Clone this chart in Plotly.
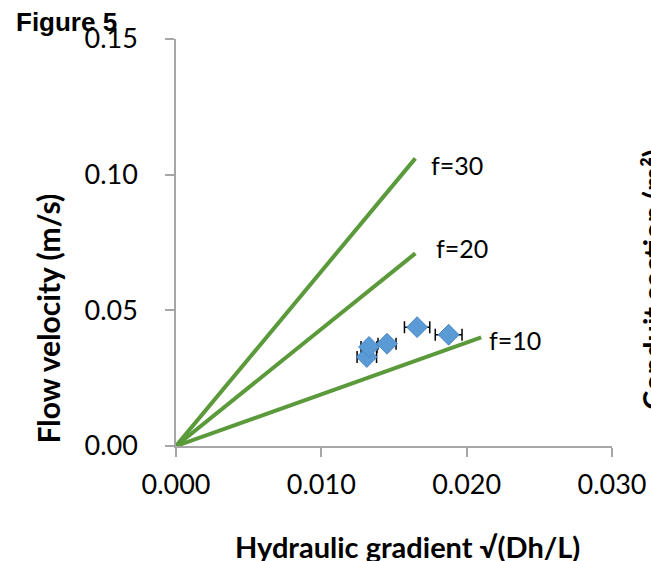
import plotly.graph_objects as go

# Data
gradient = [0.01313, 0.01328, 0.01452, 0.01659, 0.01876]
velocity = [0.0328, 0.0365, 0.0377, 0.0438, 0.0410]
gradient_err = [0.00067, 0.00055, 0.00062, 0.00087, 0.00092]

line_labels = ["f=30", "f=20", "f=10"]
line_x_end = [0.01647, 0.01647, 0.0210]
line_y_end = [0.106, 0.0710, 0.0400]

x_ticks = [0.0, 0.01, 0.02, 0.03]
x_ticktext = ["0.000", "0.010", "0.020", "0.030"]
y_ticks = [0.0, 0.05, 0.10, 0.15]
y_ticktext = ["0.00", "0.05", "0.10", "0.15"]

GREEN = "#5B9A3B"
BLUE = "#5B9BD5"
AXIS = "#A6A6A6"
FONT = "Lato"

fig = go.Figure()

for lab, xe, ye in zip(line_labels, line_x_end, line_y_end):
    fig.add_trace(go.Scatter(x=[0, xe], y=[0, ye], mode="lines",
                             line=dict(color=GREEN, width=4), showlegend=False,
                             hoverinfo="skip"))

fig.add_trace(go.Scatter(
    x=gradient, y=velocity, mode="markers",
    marker=dict(symbol="diamond", size=16, color=BLUE,
                line=dict(color="#4A88C8", width=1)),
    error_x=dict(type="data", array=gradient_err, visible=True,
                 color="black", thickness=1.5, width=6),
    showlegend=False))

annotations = []
label_pos = [(0.01738, 0.1035), (0.01772, 0.0728), (0.02143, 0.0391)]
for lab, (lx, ly) in zip(line_labels, label_pos):
    annotations.append(dict(x=lx, y=ly, xref="x", yref="y", text=lab,
                            showarrow=False, xanchor="left", yanchor="middle",
                            font=dict(family=FONT, size=25, color="black")))

annotations += [
    dict(text="Flow velocity (m/s)", xref="paper", yref="paper",
         x=-0.293, y=0.314, textangle=-90, showarrow=False,
         xanchor="center", yanchor="middle",
         font=dict(family=FONT, size=30, color="black", weight="bold")),
    dict(text="Hydraulic gradient √(Dh/L)", xref="paper", yref="paper",
         x=0.532, y=-0.246, showarrow=False,
         xanchor="center", yanchor="middle",
         font=dict(family=FONT, size=29, color="black", weight="bold")),
    dict(text="Conduit section (m²)", xref="paper", yref="paper",
         x=1.091, y=0.41, textangle=-90, showarrow=False,
         xanchor="center", yanchor="middle",
         font=dict(family=FONT, size=29, color="black", weight="bold")),
    dict(text="Figure 5", xref="paper", yref="paper",
         x=-0.371, y=1.041, showarrow=False,
         xanchor="left", yanchor="middle",
         font=dict(family="Liberation Sans", size=26, color="black", weight="bold")),
]

fig.update_layout(
    width=651, height=561,
    margin=dict(l=176, r=39, t=39, b=115, pad=0),
    paper_bgcolor="white", plot_bgcolor="white",
    annotations=annotations,
    xaxis=dict(range=[0, 0.03], tickvals=x_ticks, ticktext=x_ticktext,
               automargin=False,
               showgrid=False, zeroline=False, showline=True,
               linecolor=AXIS, linewidth=1.5, ticks="outside", ticklen=9,
               tickcolor=AXIS, tickwidth=1.5,
               tickfont=dict(family=FONT, size=27, color="black"),
               ticklabelstandoff=5),
    yaxis=dict(range=[0, 0.15], tickvals=y_ticks, ticktext=y_ticktext,
               automargin=False,
               showgrid=False, zeroline=False, showline=True,
               linecolor=AXIS, linewidth=1.5, ticks="outside", ticklen=9,
               tickcolor=AXIS, tickwidth=1.5,
               tickfont=dict(family=FONT, size=27, color="black"),
               ticklabelstandoff=22),
)

# Remove the page's default body margin so the 651x561 figure fills the window exactly
fig.write_html("out.html", config={"displayModeBar": False},
               post_script="document.body.style.margin='0';document.body.style.overflow='hidden';")
